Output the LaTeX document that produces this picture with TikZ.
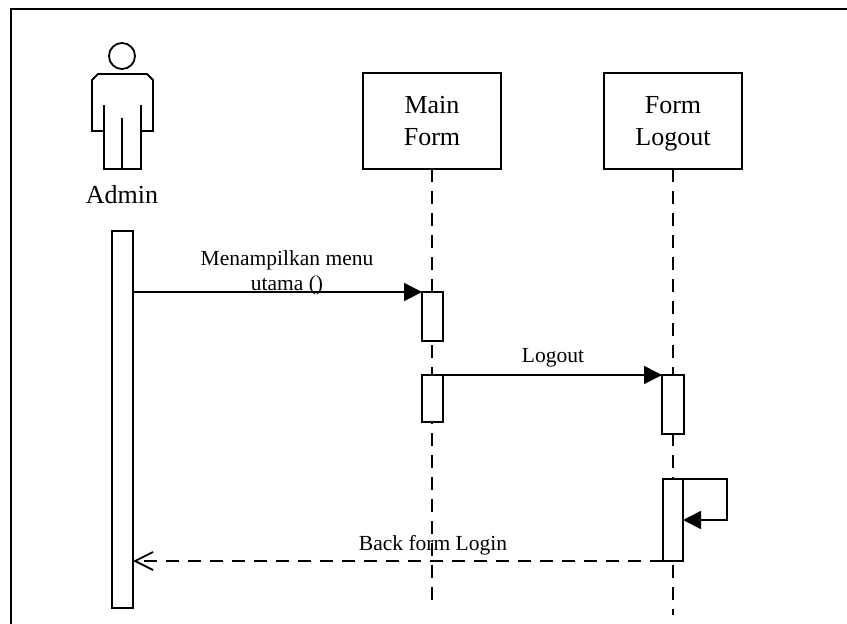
\documentclass[tikz,border=0pt]{standalone}
\usepackage{fontspec}
\setmainfont{Liberation Serif}
\usetikzlibrary{arrows.meta}
\tikzset{
    objbox/.style={draw, line width=1.8pt, outer sep=0pt, minimum width=138pt, minimum height=96pt, anchor=north, align=center, inner sep=0pt, text depth=0pt, font=\fontsize{26}{32}\selectfont},
    actbar/.style={draw, fill=white, line width=1.8pt, outer sep=0pt, minimum width=21pt, anchor=north, inner sep=0pt},
    lifeline/.style={line width=1.8pt, dash pattern=on 13pt off 9pt},
    msg/.style={line width=1.8pt, -{Triangle[length=18pt,width=18pt]}},
    backmsg/.style={line width=1.8pt, dash pattern=on 13pt off 9pt, -{Straight Barb[length=18pt,width=18pt,line width=1.8pt]}},
    msglabel/.style={align=center, inner sep=0pt, font=\fontsize{21.5}{25.5}\selectfont}
}
\begin{document}
\begin{tikzpicture}[x=1pt, y=-1pt]
    \useasboundingbox (0,0) rectangle (847,624);

    % Outer frame, only left and top are visible
    \draw[line width=1.8pt] (11,624) -- (11,9) -- (847,9);

    % Actor
    \draw[line width=1.8pt] (122,56) circle (13);
    \draw[line width=1.8pt] (104,131) -- (92,131) -- (92,80) -- (98,74) -- (147,74) -- (153,80) -- (153,131) -- (141,131);
    \draw[line width=1.8pt] (104,105) -- (104,169) -- (141,169) -- (141,105);
    \draw[line width=1.8pt] (122,118) -- (122,169);
    \node[inner sep=0pt, font=\fontsize{26}{32}\selectfont] (adminlabel) at (122,195) {Admin};

    % Objects
    \node[objbox] (mainform) at (432,73) {Main\\Form};
    \node[objbox] (formlogout) at (673,73) {Form\\Logout};

    % Lifelines
    \coordinate (mainend) at (432,607);
    \coordinate (logoutend) at (673,615);
    \draw[lifeline] (mainform.south) -- (mainend);
    \draw[lifeline] (formlogout.south) -- (logoutend);

    % Activation bars
    \node[actbar, minimum height=377pt] (adminbar) at (122.5,231) {};
    \node[actbar, minimum height=49pt] (mainbarA) at (432.5,292) {};
    \node[actbar, minimum height=47pt] (mainbarB) at (432.5,375) {};
    \node[actbar, minimum width=22pt, minimum height=59pt] (logoutbarA) at (673,375) {};
    \node[actbar, minimum width=20pt, minimum height=82pt] (logoutbarB) at (673,479) {};

    % Messages
    \draw[msg] (adminbar.east |- mainbarA.north) -- (mainbarA.north west);
    \draw[msg] (mainbarB.north east) -- (logoutbarA.north west);
    \draw[msg] (logoutbarB.north east) -- ++(44,0) |- (logoutbarB.east);
    \draw[backmsg] (logoutbarB.south west) -- (adminbar.east |- logoutbarB.south);

    % Message labels
    \node[msglabel] (menulabel) at (287,273) {Menampilkan menu\\utama ()};
    \node[msglabel, anchor=base] (logoutlabel) at (553,362) {Logout};
    \node[msglabel, anchor=base] (backlabel) at (433,550) {Back form Login};
\end{tikzpicture}
\end{document}
